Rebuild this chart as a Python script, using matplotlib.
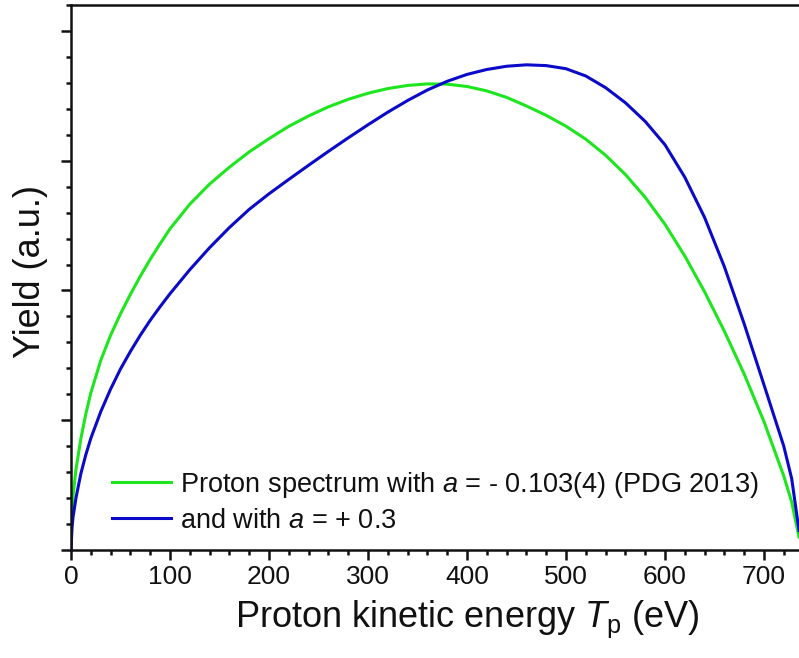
import numpy as np
import matplotlib
matplotlib.use('Agg')
import matplotlib.pyplot as plt
from matplotlib.ticker import MultipleLocator, NullFormatter

plt.rcParams['font.family'] = ['Liberation Sans', 'DejaVu Sans']
plt.rcParams['mathtext.fontset'] = 'custom'
plt.rcParams['mathtext.rm'] = 'Liberation Sans'
plt.rcParams['mathtext.it'] = 'Liberation Sans:italic'

x_green = [0, 1, 2, 5, 10, 15, 20, 30, 40, 50, 60, 70, 80, 90, 100, 120, 140,
           160, 180, 200, 220, 240, 260, 280, 300, 320, 340, 360, 380, 400, 420,
           440, 460, 480, 500, 520, 540, 560, 580, 600, 620, 640, 660, 680, 700,
           720, 728, 735.4]
# proton spectrum, a = -0.103
y_green = [0, 0.28, 0.41, 0.62, 0.86, 1.05, 1.21, 1.46, 1.655, 1.82, 1.97, 2.11,
           2.24, 2.36, 2.475, 2.665, 2.82, 2.95, 3.068, 3.17, 3.265, 3.345, 3.415,
           3.473, 3.52, 3.556, 3.58, 3.592, 3.59, 3.572, 3.538, 3.488, 3.422, 3.35,
           3.266, 3.166, 3.042, 2.894, 2.718, 2.51, 2.266, 1.99, 1.686, 1.356,
           0.99, 0.57, 0.37, 0.10]

x_blue = [0, 1, 2, 5, 10, 15, 20, 30, 40, 50, 60, 70, 80, 90, 100, 120, 140,
          160, 180, 200, 220, 240, 260, 280, 300, 320, 340, 360, 380, 400, 420,
          440, 460, 480, 500, 520, 540, 560, 580, 600, 620, 640, 660, 680, 700,
          720, 728, 735.4]
# proton spectrum, a = +0.3
y_blue = [0, 0.17, 0.25, 0.40, 0.59, 0.735, 0.86, 1.065, 1.24, 1.395, 1.53,
          1.655, 1.77, 1.875, 1.975, 2.16, 2.33, 2.485, 2.625, 2.745, 2.856,
          2.965, 3.072, 3.176, 3.277, 3.374, 3.464, 3.545, 3.612, 3.665, 3.703,
          3.728, 3.739, 3.733, 3.709, 3.653, 3.563, 3.447, 3.303, 3.123, 2.873,
          2.563, 2.183, 1.743, 1.273, 0.80, 0.55, 0.15]

labels = ['Proton spectrum with $a$ = - 0.103(4) (PDG 2013)',
          'and with $a$ = + 0.3']

fig = plt.figure(figsize=(7.99, 6.58), dpi=100)
ax = fig.add_axes([71/799, 108/658, 730/799, 545/658])

ax.plot(x_green, y_green, color='#1EE61E', lw=2.2, label=labels[0])
ax.plot(x_blue, y_blue, color='#0A0AC8', lw=2.2, label=labels[1])

ax.set_xlim(0, 737.4)
ax.set_ylim(0, 4.2)

ax.xaxis.set_major_locator(MultipleLocator(100))
ax.xaxis.set_minor_locator(MultipleLocator(20))
ax.yaxis.set_major_locator(MultipleLocator(1))
ax.yaxis.set_minor_locator(MultipleLocator(0.2))
ax.yaxis.set_major_formatter(NullFormatter())

ax.tick_params(which='both', direction='out', width=1.8, colors='#111111')
ax.tick_params(which='major', length=7)
ax.tick_params(which='minor', length=3.5)
ax.tick_params(axis='x', labelsize=19, pad=4, labelcolor='#111111')
for s in ax.spines.values():
    s.set_linewidth(1.8)
    s.set_color('#111111')

fig.text(467.5/799, (658-627)/658, 'Proton kinetic energy $T_\\mathrm{p}$ (eV)',
         ha='center', va='baseline', fontsize=26, color='#111111')
fig.text(31/799, (658-272)/658, 'Yield (a.u.)', rotation=90,
         ha='center', va='center', fontsize=26, color='#111111')

leg = ax.legend(loc='lower left', bbox_to_anchor=(0.056, 0.03), frameon=False,
                fontsize=19.5, handlelength=2.2, handletextpad=0.33,
                labelspacing=0.3, borderpad=0, borderaxespad=0)
for t in leg.get_texts():
    t.set_color('#111111')

fig.savefig('out.png', dpi=100)
